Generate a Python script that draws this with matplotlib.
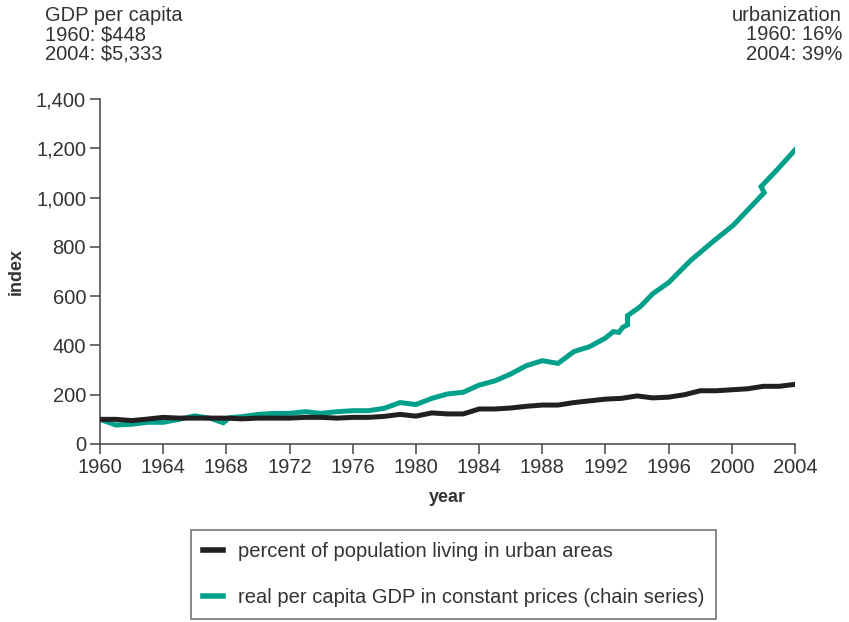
import matplotlib.pyplot as plt
import numpy as np

# urbanization index (1960 = 100)
urb_years = list(range(1960, 2005))
urban = [100, 100, 95, 101, 108, 105, 105, 105, 105, 102,
         105, 105, 105, 108, 108, 105, 108, 108, 112, 120,
         113, 126, 122, 122, 142, 142, 146, 153, 158, 158,
         168, 175, 182, 185, 195, 187, 190, 200, 216, 216,
         220, 224, 234, 234, 242]

# real per capita GDP index (chain series)
gdp_years = [1960, 1961, 1962, 1963, 1964, 1965, 1966, 1967, 1967.8, 1968.2,
             1969, 1970, 1971, 1972, 1973, 1974, 1975, 1976, 1977, 1978,
             1979, 1980, 1981, 1982, 1983, 1984, 1985, 1986, 1987, 1988,
             1989, 1990, 1991, 1992, 1992.5, 1992.85, 1993.1, 1993.4, 1993.4, 1994.2,
             1995, 1996, 1997.4, 1998.8, 2000.1, 2002.05, 2001.85, 2002.9, 2004]
gdp = [100, 77, 80, 88, 88, 100, 114, 104, 86, 107,
       111, 120, 124, 124, 131, 124, 131, 135, 135, 145,
       168, 160, 185, 203, 210, 239, 256, 284, 318, 338,
       327, 375, 395, 430, 456, 453, 474, 483, 521, 557,
       610, 655, 745, 821, 888, 1020, 1044, 1115, 1193]

xticks = list(range(1960, 2005, 4))
yticks = list(range(0, 1401, 200))

plt.rcParams['font.family'] = ['Liberation Sans', 'DejaVu Sans']
txt = '#333333'
axc = '#444444'
fs = 14.5

fig = plt.figure(figsize=(8.49, 6.22), dpi=100)
ax = fig.add_axes([0.1178, 0.2862, 0.8186, 0.5547])

ax.plot(urb_years, urban, color='#231f20', lw=3.6, solid_joinstyle='miter',
        label='percent of population living in urban areas', zorder=3)
ax.plot(gdp_years, gdp, color='#00a08a', lw=3.6, solid_joinstyle='miter',
        label='real per capita GDP in constant prices (chain series)', zorder=2)

ax.set_xlim(1960, 2004)
ax.set_ylim(0, 1400)
ax.set_xticks(xticks)
ax.set_yticks(yticks)
ax.set_yticklabels(['{:,}'.format(v) for v in yticks])
for s in ['top', 'right']:
    ax.spines[s].set_visible(False)
for s in ['left', 'bottom']:
    ax.spines[s].set_color(axc)
    ax.spines[s].set_linewidth(1.1)
ax.tick_params(axis='both', direction='out', length=7, width=1.1, color=axc,
               labelsize=fs, labelcolor=txt, pad=3)
ax.set_xlabel('year', fontsize=13, fontweight='bold', color=txt, labelpad=9)
ax.set_ylabel('index', fontsize=13, fontweight='bold', color=txt, labelpad=8)

fig.text(45 / 849, 1 - 6 / 622, 'GDP per capita\n1960: $448\n2004: $5,333',
         ha='left', va='top', fontsize=fs, color=txt, linespacing=1.03)
fig.text(842 / 849, 1 - 6 / 622, 'urbanization\n1960: 16%\n2004: 39%',
         ha='right', va='top', fontsize=fs, color=txt, linespacing=1.03)

leg = fig.legend(loc='upper center', bbox_to_anchor=(453.5 / 849, 1 - 530 / 622),
                 fontsize=fs, frameon=True, fancybox=False, handlelength=1.0,
                 handletextpad=0.75, labelspacing=1.35, borderpad=0.6,
                 borderaxespad=0, labelcolor=txt)
leg.get_frame().set_edgecolor(axc)
leg.get_frame().set_linewidth(1.1)
for h in leg.get_lines():
    h.set_linewidth(4)

fig.savefig('out.png', dpi=100)
